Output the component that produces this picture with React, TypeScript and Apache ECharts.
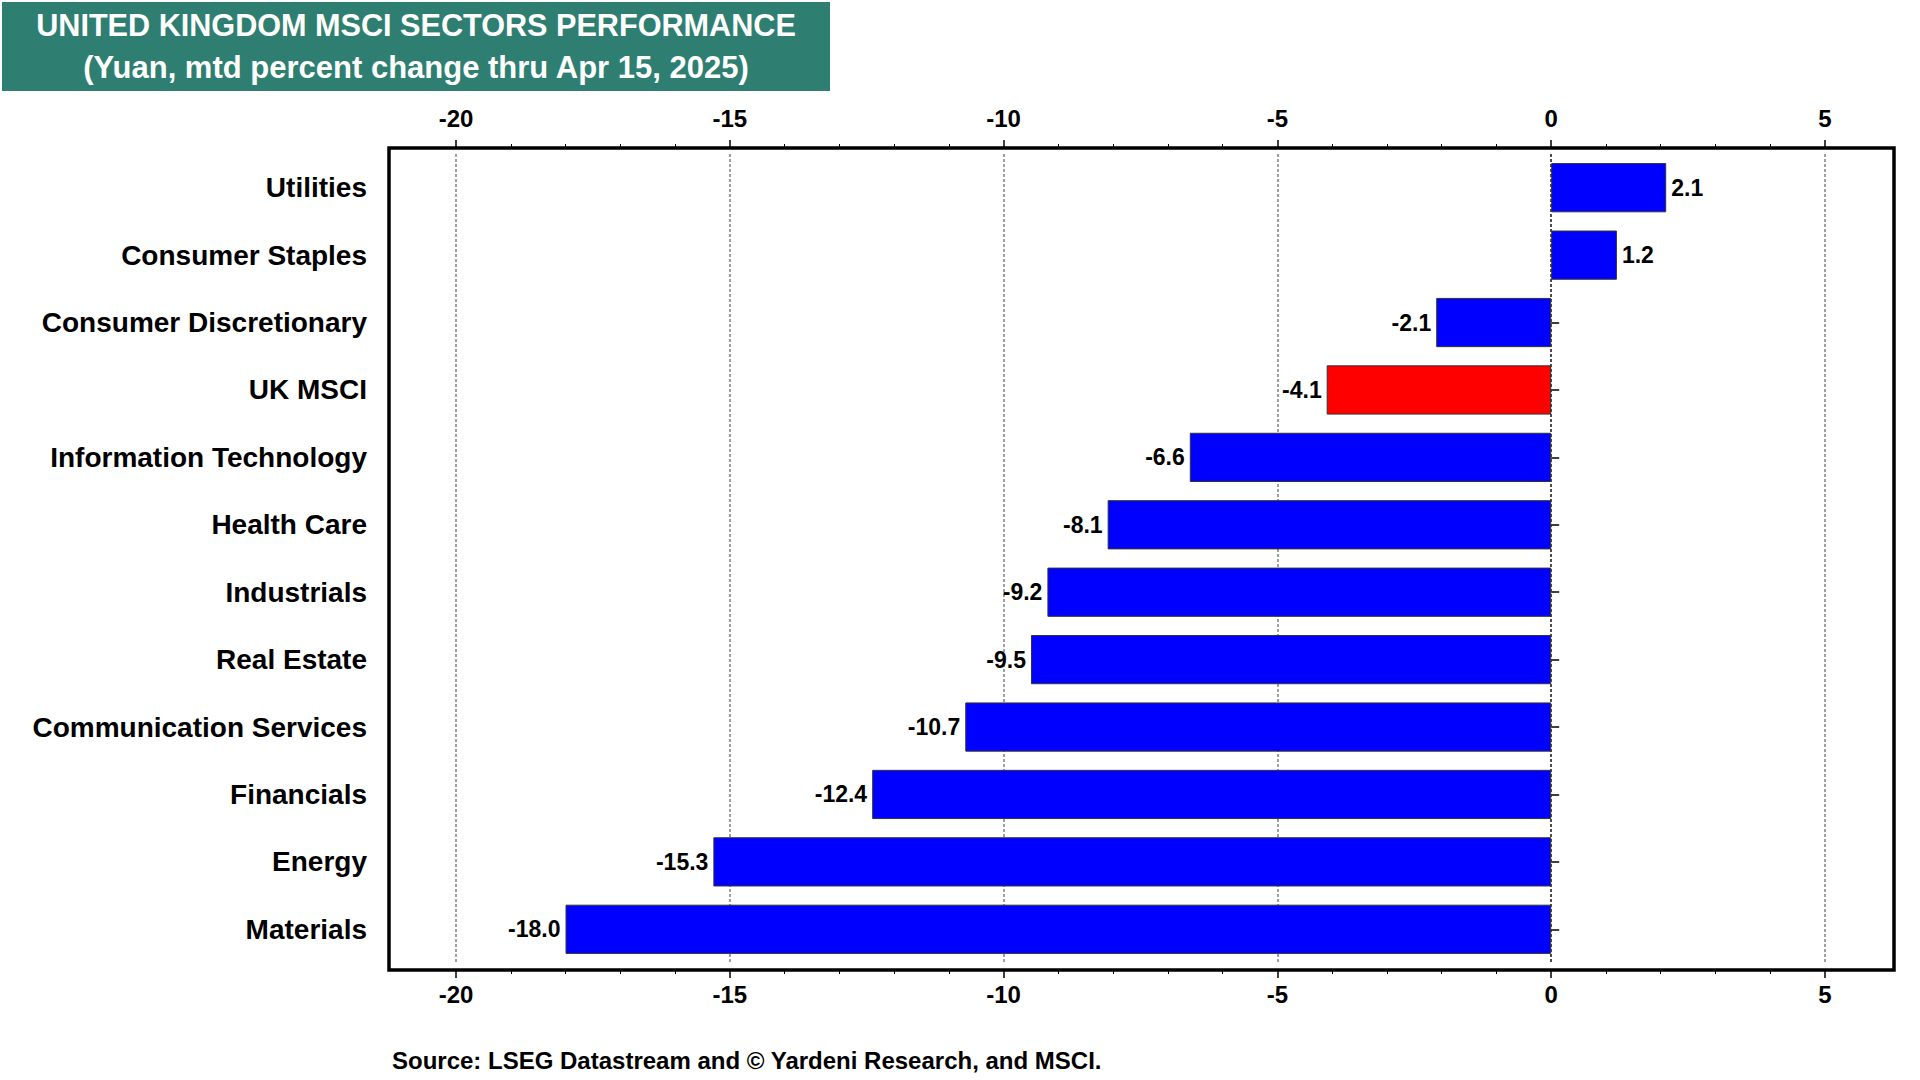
import React, { useEffect, useRef } from "react";
import * as echarts from "echarts";

const categories = [
  "Utilities",
  "Consumer Staples",
  "Consumer Discretionary",
  "UK MSCI",
  "Information Technology",
  "Health Care",
  "Industrials",
  "Real Estate",
  "Communication Services",
  "Financials",
  "Energy",
  "Materials",
];
const values = [2.1, 1.2, -2.1, -4.1, -6.6, -8.1, -9.2, -9.5, -10.7, -12.4, -15.3, -18.0];
const highlighted = "UK MSCI";
const axisMin = -20;
const axisMax = 5;
const axisInterval = 5;

const titleLine1 = "UNITED KINGDOM MSCI SECTORS PERFORMANCE";
const titleLine2 = "(Yuan, mtd percent change thru Apr 15, 2025)";
const sourceText = "Source: LSEG Datastream and \u00A9 Yardeni Research, and MSCI.";

const FONT = "'Liberation Sans', Arial, Helvetica, sans-serif";

export default function App() {
  const ref = useRef<HTMLDivElement>(null);

  useEffect(() => {
    if (!ref.current) return;
    const chart = echarts.init(ref.current, null, { renderer: "svg" });

    const data = values.map((v, i) => ({
      value: v,
      itemStyle: { color: categories[i] === highlighted ? "#FF0000" : "#0000FF" },
      label: { position: v >= 0 ? "right" : "left" },
    }));

    const xAxisCommon = {
      type: "value",
      min: axisMin,
      max: axisMax,
      interval: axisInterval,
      axisLine: { show: false },
      axisTick: { show: true, inside: false, length: 8, lineStyle: { color: "#000", width: 1.5 } },
      minorTick: { show: true, splitNumber: 5, length: 4, lineStyle: { color: "#000", width: 1 } },
      axisLabel: {
        color: "#000",
        fontFamily: FONT,
        fontWeight: "bold",
        fontSize: 24,
      },
    };

    chart.setOption({
      animation: false,
      backgroundColor: "#fff",
      grid: { left: 456, right: 95, top: 154, bottom: 117, containLabel: false },
      xAxis: [
        {
          ...xAxisCommon,
          position: "top",
          offset: 6,
          axisLabel: { ...xAxisCommon.axisLabel, margin: 18 },
          splitLine: { show: true, lineStyle: { color: "#A0A0A0", type: [3, 2], width: 2 } },
        },
        {
          ...xAxisCommon,
          position: "bottom",
          offset: 7,
          axisLabel: { ...xAxisCommon.axisLabel, margin: 12 },
          splitLine: { show: false },
        },
      ],
      yAxis: {
        type: "category",
        inverse: true,
        data: categories,
        offset: 67,
        axisLine: { show: false },
        axisTick: {
          show: true,
          inside: true,
          length: 8,
          alignWithLabel: true,
          lineStyle: { color: "#000", width: 1.5 },
        },
        axisLabel: {
          color: "#000",
          fontFamily: FONT,
          fontWeight: "bold",
          fontSize: 28,
          margin: 22,
          padding: [0, 0, 3, 0],
        },
        splitLine: { show: false },
      },
      series: [
        {
          type: "bar",
          xAxisIndex: 0,
          data,
          barCategoryGap: "27%",
          itemStyle: { borderColor: "#333", borderWidth: 1 },
          label: {
            show: true,
            distance: 5,
            color: "#000",
            fontFamily: FONT,
            fontWeight: "bold",
            fontSize: 23,
            formatter: (p: any) => Number(p.value).toFixed(1),
          },
          markLine: {
            silent: true,
            symbol: "none",
            label: { show: false },
            lineStyle: { color: "#333", type: [3, 2], width: 1.5 },
            data: [{ xAxis: 0 }],
          },
          z: 3,
        },
      ],
      graphic: [
        {
          type: "rect",
          shape: { x: 389, y: 148, width: 1505, height: 822 },
          style: { fill: "none", stroke: "#000", lineWidth: 3.5 },
          z: 100,
          silent: true,
        },
        {
          type: "rect",
          shape: { x: 2, y: 2, width: 828, height: 89 },
          style: { fill: "#2E7F71" },
          z: 100,
        },
        {
          type: "text",
          x: 416,
          y: 25,
          scaleX: 0.988,
          z: 101,
          style: {
            text: titleLine1,
            fill: "#fff",
            font: `bold 31px ${FONT}`,
            textAlign: "center",
            textVerticalAlign: "middle",
            align: "center",
            verticalAlign: "middle",
          },
        },
        {
          type: "text",
          x: 416,
          y: 67,
          scaleX: 1.0,
          z: 101,
          style: {
            text: titleLine2,
            fill: "#fff",
            font: `bold 31px ${FONT}`,
            textAlign: "center",
            textVerticalAlign: "middle",
            align: "center",
            verticalAlign: "middle",
          },
        },
        {
          type: "text",
          x: 392,
          y: 1060,
          z: 101,
          style: {
            text: sourceText,
            fill: "#000",
            font: `bold 24px ${FONT}`,
            textAlign: "left",
            textVerticalAlign: "middle",
            align: "left",
            verticalAlign: "middle",
          },
        },
      ],
    });

    return () => chart.dispose();
  }, []);

  return (
    <div
      ref={ref}
      style={{ position: "absolute", left: 0, top: 0, width: 1920, height: 1080 }}
    />
  );
}
